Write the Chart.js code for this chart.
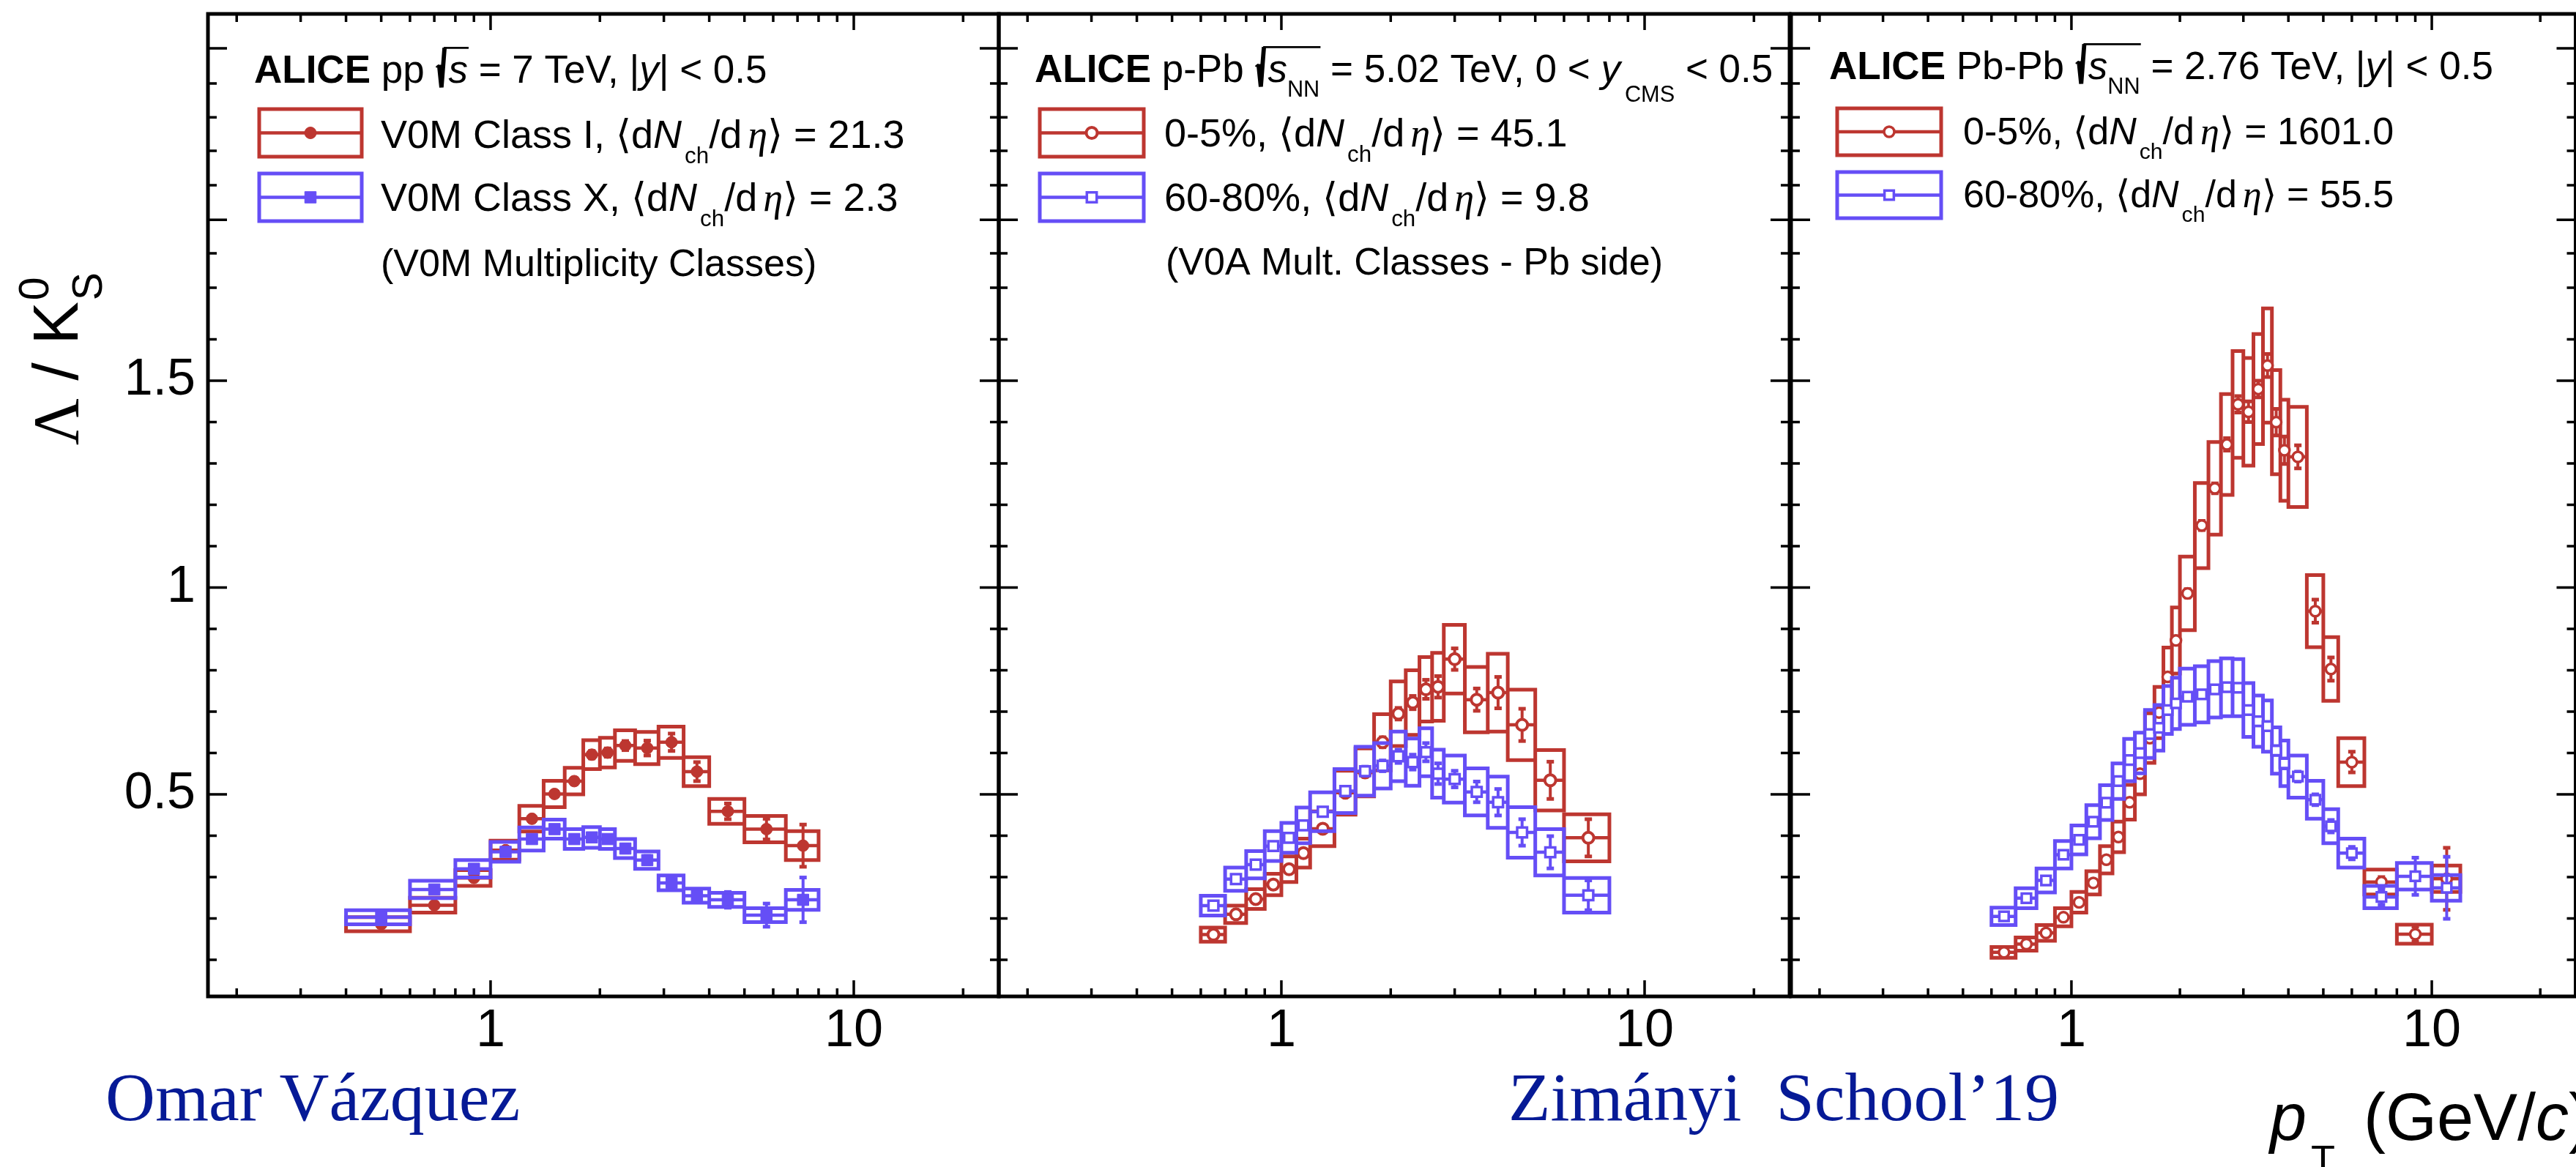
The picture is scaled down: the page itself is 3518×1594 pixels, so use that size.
<!DOCTYPE html>
<html>
<head>
<meta charset="utf-8">
<title>Lambda / K0S ratio</title>
<script src="https://cdn.jsdelivr.net/npm/chart.js@4.4.1/dist/chart.umd.min.js"></script>
<style>
    html, body { margin: 0; padding: 0; background: #fff; overflow: hidden; }
    #wrap { position: relative; width: 3530px; height: 1594px; }
    #wrap canvas { position: absolute; left: 0; top: 0; width: 3530px; height: 1594px; }
</style>
</head>
<body>
<div id="wrap">
    <canvas id="pp_chart" width="3530" height="1594"></canvas>
    <canvas id="ppb_chart" width="3530" height="1594"></canvas>
    <canvas id="pbpb_chart" width="3530" height="1594"></canvas>
</div>
<script>
// axis ranges and tick values shared by the three panels
const xRange = [0.1667, 25.07];
const yRange = [0.0115, 2.387];
const xLabelTicks = [1, 10];
const xMajorTicks = [1, 10];
const xMinorTicks = [0.2, 0.3, 0.4, 0.5, 0.6, 0.7, 0.8, 0.9, 2, 3, 4, 5, 6, 7, 8, 9, 20];
const yLabelTicks = [0.5, 1, 1.5];
const yMajorTicks = [0.5, 1, 1.5, 1.889, 2.304];
const yMinorTicks = [0.1, 0.2, 0.3, 0.4, 0.6, 0.7, 0.8, 0.9, 1.1, 1.2, 1.3, 1.4, 1.6, 1.725, 1.808, 1.973, 2.056, 2.137, 2.219];

// pp 7 TeV, V0M classes I and X
const ppBins = [0.4, 0.6, 0.8, 1.0, 1.2, 1.4, 1.6, 1.8, 2.0, 2.2, 2.5, 2.9, 3.4, 4.0, 5.0, 6.5, 8.0];
const ppPt = [0.5, 0.7, 0.9, 1.1, 1.3, 1.5, 1.7, 1.9, 2.1, 2.35, 2.7, 3.15, 3.7, 4.5, 5.75, 7.25];
const ppHighRatio = [0.186, 0.232, 0.298, 0.365, 0.441, 0.501, 0.532, 0.596, 0.601, 0.618, 0.612, 0.626, 0.555, 0.459, 0.416, 0.376];
const ppHighSyst = [0.017, 0.018, 0.019, 0.023, 0.031, 0.032, 0.032, 0.035, 0.036, 0.037, 0.039, 0.038, 0.035, 0.030, 0.032, 0.035];
const ppHighStat = [0.003, 0.003, 0.004, 0.005, 0.006, 0.007, 0.008, 0.009, 0.010, 0.011, 0.018, 0.021, 0.023, 0.019, 0.025, 0.051];
const ppLowRatio = [0.203, 0.270, 0.320, 0.361, 0.392, 0.416, 0.392, 0.396, 0.392, 0.369, 0.341, 0.286, 0.255, 0.245, 0.208, 0.245];
const ppLowSyst = [0.017, 0.021, 0.021, 0.024, 0.028, 0.023, 0.024, 0.025, 0.024, 0.023, 0.021, 0.018, 0.017, 0.017, 0.017, 0.024];
const ppLowStat = [0.002, 0.003, 0.003, 0.004, 0.005, 0.006, 0.007, 0.008, 0.008, 0.009, 0.010, 0.010, 0.012, 0.019, 0.028, 0.054];

// p-Pb 5.02 TeV, 0-5% and 60-80%
const ppbBins = [0.6, 0.7, 0.8, 0.9, 1.0, 1.1, 1.2, 1.4, 1.6, 1.8, 2.0, 2.2, 2.4, 2.6, 2.8, 3.2, 3.7, 4.2, 5.0, 6.0, 8.0];
const ppbPt = [0.65, 0.75, 0.85, 0.95, 1.05, 1.15, 1.3, 1.5, 1.7, 1.9, 2.1, 2.3, 2.5, 2.7, 3.0, 3.45, 3.95, 4.6, 5.5, 7.0];
const ppbHighRatio = [0.161, 0.210, 0.247, 0.282, 0.319, 0.358, 0.417, 0.504, 0.553, 0.626, 0.695, 0.722, 0.754, 0.760, 0.827, 0.729, 0.746, 0.668, 0.534, 0.395];
const ppbHighSyst = [0.017, 0.021, 0.024, 0.026, 0.031, 0.035, 0.042, 0.053, 0.058, 0.068, 0.078, 0.078, 0.078, 0.082, 0.083, 0.079, 0.094, 0.085, 0.073, 0.057];
const ppbHighStat = [0.003, 0.003, 0.004, 0.004, 0.005, 0.006, 0.006, 0.008, 0.010, 0.012, 0.014, 0.016, 0.023, 0.026, 0.026, 0.027, 0.038, 0.039, 0.045, 0.045];
const ppbLowRatio = [0.231, 0.295, 0.330, 0.375, 0.395, 0.425, 0.458, 0.508, 0.556, 0.569, 0.592, 0.578, 0.602, 0.550, 0.537, 0.506, 0.481, 0.408, 0.360, 0.256];
const ppbLowSyst = [0.024, 0.028, 0.033, 0.036, 0.036, 0.043, 0.047, 0.053, 0.059, 0.055, 0.060, 0.057, 0.058, 0.058, 0.057, 0.057, 0.062, 0.061, 0.056, 0.042];
const ppbLowStat = [0.003, 0.003, 0.004, 0.004, 0.005, 0.006, 0.007, 0.009, 0.011, 0.013, 0.016, 0.018, 0.022, 0.025, 0.020, 0.025, 0.032, 0.032, 0.039, 0.036];

// Pb-Pb 2.76 TeV, 0-5% and 60-80%
const pbpbBins = [0.6, 0.7, 0.8, 0.9, 1.0, 1.1, 1.2, 1.3, 1.4, 1.5, 1.6, 1.7, 1.8, 1.9, 2.0, 2.2, 2.4, 2.6, 2.8, 3.0, 3.2, 3.4, 3.6, 3.8, 4.0, 4.5, 5.0, 5.5, 6.5, 8.0, 10.0, 12.0];
const pbpbPt = [0.65, 0.75, 0.85, 0.95, 1.05, 1.15, 1.25, 1.35, 1.45, 1.55, 1.65, 1.75, 1.85, 1.95, 2.1, 2.3, 2.5, 2.7, 2.9, 3.1, 3.3, 3.5, 3.7, 3.9, 4.25, 4.75, 5.25, 6.0, 7.25, 9.0, 11.0];
const pbpbHighRatio = [0.118, 0.138, 0.165, 0.203, 0.239, 0.286, 0.342, 0.397, 0.481, 0.550, 0.636, 0.698, 0.784, 0.872, 0.986, 1.150, 1.240, 1.346, 1.443, 1.425, 1.480, 1.537, 1.400, 1.332, 1.316, 0.943, 0.803, 0.578, 0.288, 0.162, 0.296];
const pbpbHighSyst = [0.013, 0.016, 0.019, 0.022, 0.025, 0.028, 0.033, 0.037, 0.042, 0.050, 0.060, 0.062, 0.071, 0.080, 0.089, 0.103, 0.112, 0.122, 0.129, 0.130, 0.133, 0.138, 0.126, 0.122, 0.121, 0.087, 0.077, 0.058, 0.030, 0.023, 0.032];
const pbpbHighStat = [0.003, 0.003, 0.003, 0.004, 0.004, 0.005, 0.005, 0.006, 0.006, 0.007, 0.007, 0.008, 0.009, 0.010, 0.010, 0.011, 0.012, 0.015, 0.020, 0.025, 0.020, 0.028, 0.032, 0.033, 0.028, 0.028, 0.028, 0.025, 0.012, 0.018, 0.075];
const pbpbLowRatio = [0.205, 0.249, 0.292, 0.354, 0.390, 0.434, 0.480, 0.532, 0.583, 0.600, 0.646, 0.661, 0.704, 0.720, 0.736, 0.742, 0.754, 0.759, 0.758, 0.704, 0.677, 0.665, 0.606, 0.575, 0.543, 0.487, 0.423, 0.358, 0.252, 0.302, 0.274];
const pbpbLowSyst = [0.021, 0.024, 0.029, 0.033, 0.035, 0.040, 0.042, 0.043, 0.051, 0.049, 0.058, 0.055, 0.058, 0.062, 0.068, 0.068, 0.068, 0.070, 0.069, 0.065, 0.062, 0.062, 0.056, 0.055, 0.051, 0.046, 0.041, 0.035, 0.027, 0.032, 0.031];
const pbpbLowStat = [0.002, 0.002, 0.003, 0.003, 0.003, 0.004, 0.004, 0.004, 0.005, 0.005, 0.005, 0.006, 0.006, 0.006, 0.006, 0.007, 0.007, 0.008, 0.008, 0.009, 0.010, 0.010, 0.011, 0.012, 0.012, 0.013, 0.015, 0.015, 0.019, 0.045, 0.075];

const SANS = '"Liberation Sans", Arial, Helvetica, sans-serif';
const SERIF = '"Liberation Serif", "Times New Roman", serif';
const RED = 'rgb(189, 54, 48)';
const BLUE = 'rgb(101, 78, 246)';
const NAVY = 'rgb(6, 26, 150)';

const W = 3530, H = 1594, TOP = 19, BOTTOM = 1361;

const ppSeries = [
    {bins: ppBins, pt: ppPt, ratio: ppHighRatio, syst: ppHighSyst, stat: ppHighStat, color: RED, marker: 'circle', filled: true, radius: 8, markerWidth: 1},
    {bins: ppBins, pt: ppPt, ratio: ppLowRatio, syst: ppLowSyst, stat: ppLowStat, color: BLUE, marker: 'rect', filled: true, radius: 11, markerWidth: 1}
];
const ppbSeries = [
    {bins: ppbBins, pt: ppbPt, ratio: ppbHighRatio, syst: ppbHighSyst, stat: ppbHighStat, color: RED, marker: 'circle', filled: false, radius: 7.5, markerWidth: 4},
    {bins: ppbBins, pt: ppbPt, ratio: ppbLowRatio, syst: ppbLowSyst, stat: ppbLowStat, color: BLUE, marker: 'rect', filled: false, radius: 9.5, markerWidth: 3.5}
];
const pbpbSeries = [
    {bins: pbpbBins, pt: pbpbPt, ratio: pbpbHighRatio, syst: pbpbHighSyst, stat: pbpbHighStat, color: RED, marker: 'circle', filled: false, radius: 7, markerWidth: 3.5},
    {bins: pbpbBins, pt: pbpbPt, ratio: pbpbLowRatio, syst: pbpbLowSyst, stat: pbpbLowStat, color: BLUE, marker: 'rect', filled: false, radius: 9, markerWidth: 3.5}
];

function dNdEta(prefix, value) {
    return [{t: prefix + '\u27E8d'}, {t: 'N', i: true}, {t: 'ch', sub: true, dx: 4}, {t: '/d'}, {t: '\u03B7', i: true, serif: true, dx: 8}, {t: '\u27E9 = ' + value}];
}

// legend blocks drawn inside each panel
const panelText = [
    {
        header: {x: 347, y: 113, size: 53, pieces: [{t: 'ALICE', b: true}, {t: ' pp '}, {sqrt: [{t: 's', i: true}]}, {t: ' = 7 TeV, |'}, {t: 'y', i: true}, {t: '| < 0.5'}]},
        entries: [
            {box: [354, 149, 140, 65], series: ppSeries[0], x: 520, y: 202, size: 54, pieces: dNdEta('V0M Class I, ', '21.3')},
            {box: [354, 237, 140, 65], series: ppSeries[1], x: 520, y: 288, size: 54, pieces: dNdEta('V0M Class X, ', '2.3')}
        ],
        note: {x: 520, y: 377, size: 52, text: '(V0M Multiplicity Classes)'}
    },
    {
        header: {x: 1413, y: 112, size: 53, pieces: [{t: 'ALICE', b: true}, {t: ' p-Pb '}, {sqrt: [{t: 's', i: true}, {t: 'NN', sub: true}]}, {t: ' = 5.02 TeV, 0 < '}, {t: 'y', i: true}, {t: 'CMS', sub: true, dx: 6, dy: 0.5}, {t: ' < 0.5'}]},
        entries: [
            {box: [1420, 149, 142, 65], series: ppbSeries[0], x: 1590, y: 200, size: 54, pieces: dNdEta('0-5%, ', '45.1')},
            {box: [1420, 237, 142, 65], series: ppbSeries[1], x: 1590, y: 288, size: 54, pieces: dNdEta('60-80%, ', '9.8')}
        ],
        note: {x: 1592, y: 375, size: 52, text: '(V0A Mult. Classes - Pb side)'}
    },
    {
        header: {x: 2498, y: 108, size: 53, pieces: [{t: 'ALICE', b: true}, {t: ' Pb-Pb '}, {sqrt: [{t: 's', i: true}, {t: 'NN', sub: true}]}, {t: ' = 2.76 TeV, |'}, {t: 'y', i: true}, {t: '| < 0.5'}]},
        entries: [
            {box: [2509, 148, 142, 64], series: pbpbSeries[0], x: 2681, y: 197, size: 52, pieces: dNdEta('0-5%, ', '1601.0')},
            {box: [2509, 235, 142, 63], series: pbpbSeries[1], x: 2681, y: 283, size: 52, pieces: dNdEta('60-80%, ', '55.5')}
        ]
    }
];

function fontOf(size, p) {
    return (p.i ? 'italic ' : '') + (p.b ? 'bold ' : '') + size + 'px ' + (p.serif ? SERIF : SANS);
}

// draws text pieces with sub/superscripts and radicals, returns the end x
function drawRich(ctx, x, y, size, pieces) {
    let cx = x;
    pieces.forEach(function (p) {
        if (p.sqrt) {
            const x0 = cx;
            const end = drawRich(ctx, x0 + size * 0.34, y, size, p.sqrt);
            ctx.save();
            ctx.strokeStyle = ctx.fillStyle;
            ctx.lineJoin = 'miter';
            ctx.lineWidth = size * 0.04;
            ctx.beginPath();
            ctx.moveTo(x0 + size * 0.02, y - size * 0.40);
            ctx.lineTo(x0 + size * 0.10, y - size * 0.46);
            ctx.stroke();
            ctx.lineWidth = size * 0.11;
            ctx.beginPath();
            ctx.moveTo(x0 + size * 0.10, y - size * 0.46);
            ctx.lineTo(x0 + size * 0.16, y + size * 0.12);
            ctx.lineTo(x0 + size * 0.24, y - size * 0.90);
            ctx.stroke();
            ctx.lineWidth = size * 0.05;
            ctx.beginPath();
            ctx.moveTo(x0 + size * 0.22, y - size * 0.90);
            ctx.lineTo(end + size * 0.02, y - size * 0.90);
            ctx.stroke();
            ctx.restore();
            cx = end;
            return;
        }
        const fs = (p.sub || p.sup) ? size * (p.rel || 0.58) : size;
        const dy = p.sub ? size * (p.dy || 0.38) : (p.sup ? -size * (p.dy || 0.45) : 0);
        ctx.font = fontOf(fs, p);
        cx += p.dx || 0;
        ctx.fillText(p.t, cx, y + dy);
        cx += ctx.measureText(p.t).width;
    });
    return cx;
}

function drawMarker(ctx, s, x, y) {
    ctx.save();
    ctx.lineWidth = s.markerWidth;
    ctx.strokeStyle = s.color;
    ctx.fillStyle = s.filled ? s.color : '#fff';
    ctx.beginPath();
    if (s.marker === 'circle') {
        ctx.arc(x, y, s.radius, 0, Math.PI * 2);
    } else {
        const h = s.radius / Math.SQRT2;
        ctx.rect(x - h, y - h, 2 * h, 2 * h);
    }
    ctx.fill();
    ctx.stroke();
    ctx.restore();
}

// error boxes, bin-width bars, stat bars and markers for one series
function seriesDatasets(s, order) {
    const boxes = [], xbars = [], ebars = [], marks = [];
    s.pt.forEach(function (pt, i) {
        const lo = s.bins[i], hi = s.bins[i + 1];
        const v = s.ratio[i], sy = s.syst[i], st = s.stat[i];
        boxes.push({x: lo, y: v - sy}, {x: hi, y: v - sy}, {x: hi, y: v + sy}, {x: lo, y: v + sy}, {x: lo, y: v - sy}, {x: lo, y: null});
        xbars.push({x: lo, y: v}, {x: hi, y: v}, {x: hi, y: null});
        ebars.push({x: pt, y: v - st}, {x: pt, y: v + st}, {x: pt, y: null});
        marks.push({x: pt, y: v});
    });
    return [
        {data: marks, showLine: false, pointStyle: s.marker, pointRadius: s.radius, pointBorderWidth: s.markerWidth,
            pointBackgroundColor: s.filled ? s.color : '#fff', pointBorderColor: s.color, order: order},
        {data: ebars, showLine: true, borderColor: s.color, borderWidth: 4, pointStyle: 'line', pointRadius: 5,
            pointBorderWidth: 5, pointBorderColor: s.color, order: order + 1},
        {data: xbars, showLine: true, borderColor: s.color, borderWidth: 4.5, pointRadius: 0, order: order + 2},
        {data: boxes, showLine: true, borderColor: s.color, borderWidth: 5, pointRadius: 0,
            borderJoinStyle: 'miter', borderCapStyle: 'square', order: order + 3}
    ];
}

const axisFrame = {
    id: 'axisFrame',
    afterDatasetsDraw: function (chart) {
        const ctx = chart.ctx, a = chart.chartArea;
        const xs = chart.scales.x, ys = chart.scales.y;
        ctx.save();
        ctx.strokeStyle = '#000';
        ctx.lineWidth = 3.5;
        ctx.beginPath();
        function xTicks(vals, len) {
            vals.forEach(function (v) {
                const px = xs.getPixelForValue(v);
                ctx.moveTo(px, a.bottom); ctx.lineTo(px, a.bottom - len);
                ctx.moveTo(px, a.top); ctx.lineTo(px, a.top + len);
            });
        }
        function yTicks(vals, len) {
            vals.forEach(function (v) {
                const py = ys.getPixelForValue(v);
                ctx.moveTo(a.left, py); ctx.lineTo(a.left + len, py);
                ctx.moveTo(a.right, py); ctx.lineTo(a.right - len, py);
            });
        }
        xTicks(xMajorTicks, 22);
        xTicks(xMinorTicks, 11);
        yTicks(yMajorTicks, 26);
        yTicks(yMinorTicks, 12);
        ctx.stroke();
        ctx.lineWidth = 5;
        ctx.strokeRect(a.left, a.top, a.right - a.left, a.bottom - a.top);
        ctx.restore();
    }
};

function legendPlugin(info) {
    return {
        id: 'panelLegend',
        afterDraw: function (chart) {
            const ctx = chart.ctx;
            ctx.save();
            ctx.fillStyle = '#000';
            ctx.textBaseline = 'alphabetic';
            drawRich(ctx, info.header.x, info.header.y, info.header.size, info.header.pieces);
            info.entries.forEach(function (e) {
                const b = e.box, s = e.series;
                ctx.save();
                ctx.strokeStyle = s.color;
                ctx.lineWidth = 5;
                ctx.strokeRect(b[0], b[1], b[2], b[3]);
                ctx.lineWidth = 4.5;
                ctx.beginPath();
                ctx.moveTo(b[0], b[1] + b[3] / 2);
                ctx.lineTo(b[0] + b[2], b[1] + b[3] / 2);
                ctx.stroke();
                ctx.restore();
                drawMarker(ctx, s, b[0] + b[2] / 2, b[1] + b[3] / 2);
                ctx.fillStyle = '#000';
                drawRich(ctx, e.x, e.y, e.size, e.pieces);
            });
            if (info.note) {
                ctx.font = info.note.size + 'px ' + SANS;
                ctx.fillText(info.note.text, info.note.x, info.note.y);
            }
            ctx.restore();
        }
    };
}

// axis titles and the footer lines
const pageText = {
    id: 'pageText',
    afterDraw: function (chart) {
        const ctx = chart.ctx;
        ctx.save();
        ctx.fillStyle = '#000';
        ctx.textBaseline = 'alphabetic';
        ctx.save();
        ctx.translate(106, 608);
        ctx.rotate(-Math.PI / 2);
        let cx = drawRich(ctx, 0, 0, 88, [{t: '\u039B', serif: true}, {t: ' / K'}]);
        ctx.font = '57px ' + SANS;
        ctx.fillText('0', cx + 2, -40);
        ctx.fillText('S', cx + 2, 33);
        ctx.restore();

        ctx.fillStyle = '#000';
        drawRich(ctx, 3100, 1557, 90, [{t: 'p', i: true}, {t: 'T', sub: true, rel: 0.6, dy: 0.5, dx: 6}, {t: ' (GeV/', dx: 14}, {t: 'c', i: true}, {t: ')'}]);

        ctx.fillStyle = NAVY;
        ctx.font = '94px ' + SERIF;
        ctx.fillText('Omar V\u00E1zquez', 144, 1530);
        ctx.fillText('Zim\u00E1nyi  School\u201919', 2060, 1530);
        ctx.restore();
    }
};

function makePanel(canvasId, left, right, series, info, showYLabels, extra) {
    const datasets = [];
    // later series are drawn on top
    series.forEach(function (s, k) {
        datasets.push.apply(datasets, seriesDatasets(s, (series.length - 1 - k) * 4));
    });
    const plugins = [axisFrame, legendPlugin(info)];
    if (extra) plugins.push(extra);
    return new Chart(document.getElementById(canvasId).getContext('2d'), {
        type: 'scatter',
        data: {datasets: datasets},
        options: {
            responsive: false,
            animation: false,
            devicePixelRatio: 1,
            events: [],
            // the y scale box fills the space left of the frame, the x scale box the space below it
            layout: {padding: {left: 0, right: W - right, top: TOP, bottom: 0}},
            scales: {
                x: {
                    type: 'logarithmic', min: xRange[0], max: xRange[1], bounds: 'data',
                    grid: {display: false, drawTicks: false, tickLength: 0},
                    border: {display: false},
                    afterBuildTicks: function (s) { s.ticks = xLabelTicks.map(function (v) { return {value: v}; }); },
                    afterFit: function (s) { s.height = H - BOTTOM; s.paddingLeft = 0; s.paddingRight = 0; s.paddingTop = 0; s.paddingBottom = 0; },
                    ticks: {
                        callback: function (v) { return String(v); },
                        autoSkip: false, maxRotation: 0, minRotation: 0, padding: 5,
                        color: '#000', font: {family: SANS, size: 72}
                    }
                },
                y: {
                    type: 'linear', min: yRange[0], max: yRange[1], bounds: 'data',
                    grid: {display: false, drawTicks: false, tickLength: 0},
                    border: {display: false},
                    afterBuildTicks: function (s) { s.ticks = yLabelTicks.map(function (v) { return {value: v}; }); },
                    afterFit: function (s) { s.width = left; s.paddingLeft = 0; s.paddingRight = 0; s.paddingTop = 0; s.paddingBottom = 0; },
                    ticks: {
                        display: showYLabels,
                        callback: function (v) { return String(v); },
                        padding: 17, color: '#000', font: {family: SANS, size: 70}
                    }
                }
            },
            plugins: {legend: {display: false}, tooltip: {enabled: false}, colors: {enabled: false}}
        },
        plugins: plugins
    });
}

makePanel('pp_chart', 284, 1364, ppSeries, panelText[0], true, pageText);
makePanel('ppb_chart', 1364, 2444, ppbSeries, panelText[1], false);
makePanel('pbpb_chart', 2446, 3526, pbpbSeries, panelText[2], false);
</script>
</body>
</html>
